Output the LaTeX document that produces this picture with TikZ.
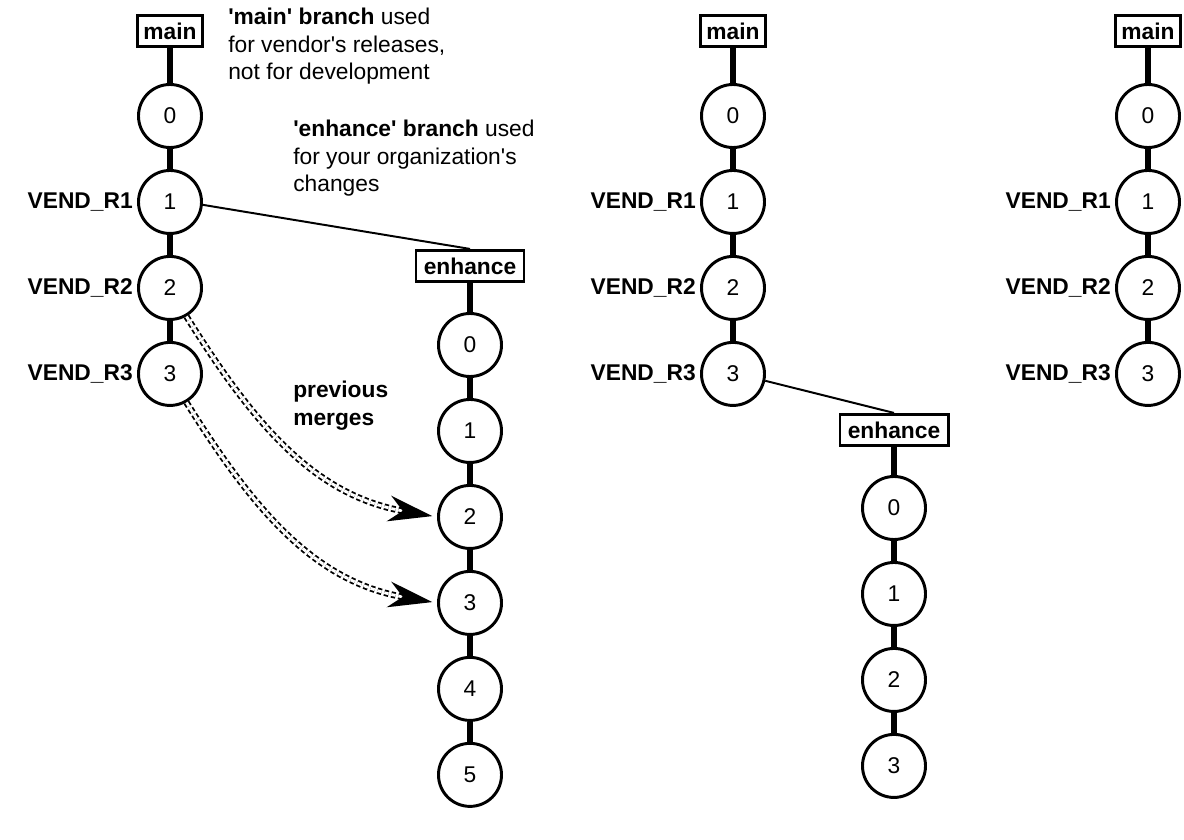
\documentclass[tikz,border=0pt]{standalone}
\usepackage{fontspec}
\setmainfont{Liberation Sans}
\usetikzlibrary{arrows.meta, positioning}
\newcommand{\apos}{\textquotesingle}
\newcommand{\diagfont}{\fontsize{16.2}{19.4}\selectfont}

\begin{document}
\begin{tikzpicture}[
    x=0.025cm, y=-0.025cm,
    font=\diagfont,
    node distance=0.5cm,
    rev/.style={draw, circle, line width=2.1pt, minimum size=1.575cm,
                inner sep=0pt},
    branch/.style={draw, rectangle, line width=2.1pt, font=\diagfont\bfseries,
                   inner xsep=0.15cm, inner ysep=0.06cm,
                   minimum height=0.78cm},
    tag/.style={font=\diagfont\bfseries, inner sep=0pt},
    link/.style={line width=4.3pt},
    fork/.style={line width=1.4pt},
    merge/.style={double, line width=1.3pt, double distance=2pt,
                  dash pattern=on 0.11cm off 0.07cm,
                  -{Stealth[length=1.1cm, width=0.65cm, inset=0.35cm]},
                  shorten >=0.12cm},
    note/.style={align=left, anchor=north west, inner sep=0pt},
]
\useasboundingbox (0,0) rectangle (1184,840);

% left: main and enhance branches
\node[branch] (lmain) at (170,31) {main};
\node[rev] (l0) at (170,116) {0};
\node[rev, below=of l0] (l1) {1};
\node[rev, below=of l1] (l2) {2};
\node[rev, below=of l2] (l3) {3};
\node[tag, left=0.1cm of l1] (lt1) {VEND\_R1};
\node[tag, left=0.1cm of l2] (lt2) {VEND\_R2};
\node[tag, left=0.1cm of l3] (lt3) {VEND\_R3};

\node[branch, minimum width=2.7cm] (lenh) at (470,266) {enhance};
\node[rev] (le0) at (470,345) {0};
\node[rev, below=of le0] (le1) {1};
\node[rev, below=of le1] (le2) {2};
\node[rev, below=of le2] (le3) {3};
\node[rev, below=of le3] (le4) {4};
\node[rev, below=of le4] (le5) {5};

\node[note] (lnote) at (228,8)
    {\textbf{\apos main\apos{} branch} used\\for vendor\apos s releases,\\not for development};
\node[note] (enote) at (293,120)
    {\textbf{\apos enhance\apos{} branch} used\\for your organization\apos s\\changes};
\node[note, font=\diagfont\bfseries] (pnote) at (293,381) {previous\\merges};

\draw[link] (lmain) -- (l0);
\draw[link] (l0) -- (l1);
\draw[link] (l1) -- (l2);
\draw[link] (l2) -- (l3);
\draw[link] (lenh) -- (le0);
\draw[link] (le0) -- (le1);
\draw[link] (le1) -- (le2);
\draw[link] (le2) -- (le3);
\draw[link] (le3) -- (le4);
\draw[link] (le4) -- (le5);
\draw[fork] (l1.-5) -- (lenh.north);
\draw[merge] (l2.-60) to[out=-58, in=170] (le2.west);
\draw[merge] (l3.-60) to[out=-58, in=170] (le3.west);

% middle: enhance branched from VEND_R3
\node[branch] (mmain) at (733,31) {main};
\node[rev] (m0) at (733,116) {0};
\node[rev, below=of m0] (m1) {1};
\node[rev, below=of m1] (m2) {2};
\node[rev, below=of m2] (m3) {3};
\node[tag, left=0.1cm of m1] (mt1) {VEND\_R1};
\node[tag, left=0.1cm of m2] (mt2) {VEND\_R2};
\node[tag, left=0.1cm of m3] (mt3) {VEND\_R3};

\node[branch, minimum width=2.7cm] (menh) at (894,430) {enhance};
\node[rev] (me0) at (894,508) {0};
\node[rev, below=of me0] (me1) {1};
\node[rev, below=of me1] (me2) {2};
\node[rev, below=of me2] (me3) {3};

\draw[link] (mmain) -- (m0);
\draw[link] (m0) -- (m1);
\draw[link] (m1) -- (m2);
\draw[link] (m2) -- (m3);
\draw[link] (menh) -- (me0);
\draw[link] (me0) -- (me1);
\draw[link] (me1) -- (me2);
\draw[link] (me2) -- (me3);
\draw[fork] (m3.-12) -- (menh.north);

% right: main only
\node[branch] (rmain) at (1148,31) {main};
\node[rev] (r0) at (1148,116) {0};
\node[rev, below=of r0] (r1) {1};
\node[rev, below=of r1] (r2) {2};
\node[rev, below=of r2] (r3) {3};
\node[tag, left=0.1cm of r1] (rt1) {VEND\_R1};
\node[tag, left=0.1cm of r2] (rt2) {VEND\_R2};
\node[tag, left=0.1cm of r3] (rt3) {VEND\_R3};

\draw[link] (rmain) -- (r0);
\draw[link] (r0) -- (r1);
\draw[link] (r1) -- (r2);
\draw[link] (r2) -- (r3);
\end{tikzpicture}
\end{document}
